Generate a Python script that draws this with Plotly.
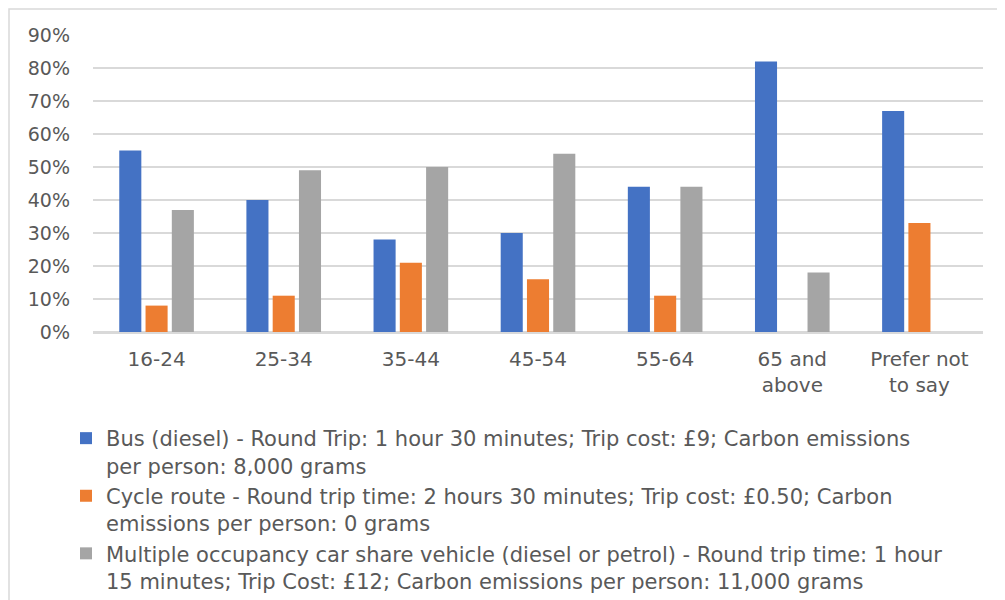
import plotly.graph_objects as go

categories = ["16-24", "25-34", "35-44", "45-54", "55-64", "65 and<br>above", "Prefer not<br>to say"]
bus = [0.55, 0.40, 0.28, 0.30, 0.44, 0.82, 0.67]
cycle = [0.08, 0.11, 0.21, 0.16, 0.11, 0.0, 0.33]
car = [0.37, 0.49, 0.50, 0.54, 0.44, 0.18, 0.0]
series_names = [
    "Bus (diesel) - Round Trip: 1 hour 30 minutes; Trip cost: £9; Carbon emissions<br>per person: 8,000 grams",
    "Cycle route - Round trip time: 2 hours 30 minutes; Trip cost: £0.50; Carbon<br>emissions per person: 0 grams",
    "Multiple occupancy car share vehicle (diesel or petrol) - Round trip time: 1 hour<br>15 minutes; Trip Cost: £12; Carbon emissions per person: 11,000 grams",
]
colors = ["#4472C4", "#ED7D31", "#A5A5A5"]

FONT = "DejaVu Sans"
W, H = 997, 592
ML, MR, MT, MB = 85, 22, 27, 268
fig = go.Figure()
for i, (vals, name) in enumerate(zip([bus, cycle, car], series_names)):
    fig.add_trace(go.Bar(x=categories, y=vals, name=name, marker_color=colors[i],
                         marker_line_width=0, legendgroup=str(i)))

fig.update_layout(
    width=W, height=H,
    margin=dict(l=ML, r=MR, t=MT, b=MB, autoexpand=False),
    paper_bgcolor="white", plot_bgcolor="white",
    barmode="group", bargap=0.38, bargroupgap=0.16,
    font=dict(family=FONT, color="#595959", size=20),
    showlegend=True,
    legend=dict(orientation="v", xref="container", yref="container",
                x=58 / W, y=1 - 410 / H, xanchor="left", yanchor="top",
                font=dict(family=FONT, size=21, color="#595959"),
                valign="top", tracegroupgap=5, itemsizing="constant",
                traceorder="normal", bgcolor="rgba(0,0,0,0)"),
)
fig.update_yaxes(range=[0, 0.9], dtick=0.1, tickformat=".0%", showgrid=True,
                 gridcolor="#D9D9D9", gridwidth=1.5, zeroline=True, zerolinecolor="#D9D9D9",
                 zerolinewidth=1.5, showline=False, ticklabelstandoff=22,
                 tickfont=dict(family=FONT, size=19, color="#595959"))
fig.update_xaxes(showgrid=False, showline=True, linecolor="#D9D9D9", linewidth=1.5,
                 tickangle=0, ticklabelstandoff=8,
                 tickfont=dict(family=FONT, size=20, color="#595959"))

# outer chart border
pw = W - ML - MR
ph = H - MT - MB
fig.add_shape(type="rect", xref="paper", yref="paper",
              x0=-(ML - 1) / pw, x1=1.2, y0=-2, y1=1 + (MT - 1) / ph,
              line=dict(color="#D9D9D9", width=1.5), fillcolor="rgba(0,0,0,0)", layer="below")

fig.write_html("out.html")
